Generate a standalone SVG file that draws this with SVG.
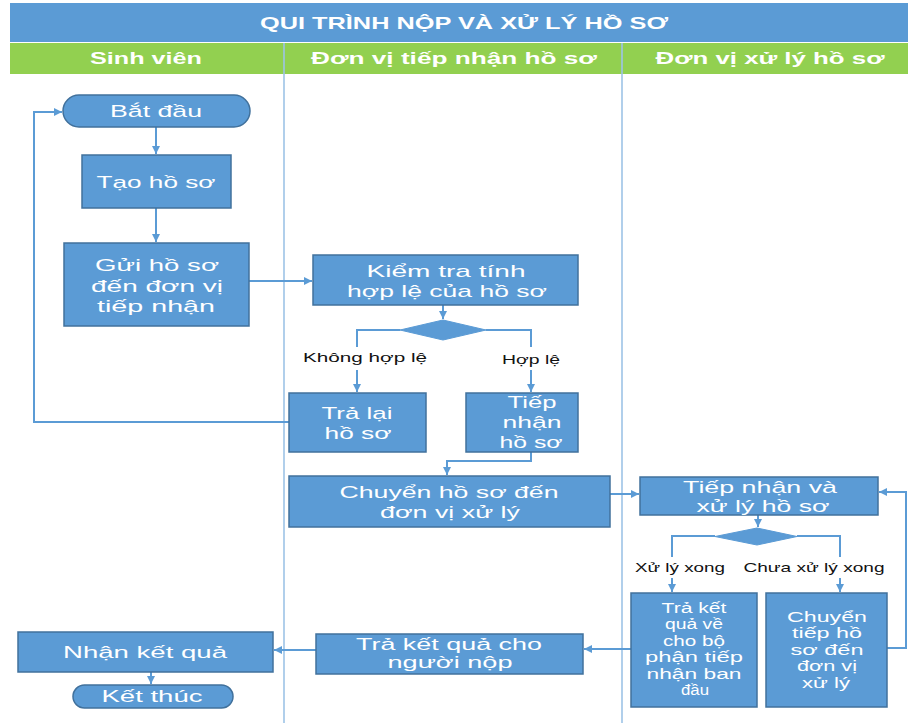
<svg xmlns="http://www.w3.org/2000/svg" width="908" height="723" viewBox="0 0 908 723">
<style>
.box{fill:#5B9BD5;stroke:#41719C;stroke-width:1.5}
.dec{fill:#5B9BD5;stroke:#5B9BD5;stroke-width:1}
.t{fill:#FFFFFF;font-family:"Liberation Sans","Open Sans",sans-serif;font-size:17px;text-anchor:middle}
.s{font-size:15.5px}
.h{fill:#FFFFFF;font-family:"Liberation Sans","Open Sans",sans-serif;font-size:17px;font-weight:bold;text-anchor:middle}
.lbl{fill:#111111;font-family:"Liberation Sans","Open Sans",sans-serif;font-size:13.5px;text-anchor:middle}
.conn{fill:none;stroke:#5B9BD5;stroke-width:2}
.lane{stroke:#9DC3E6;stroke-width:1.6}
</style>
<defs>
<marker id="arr" markerUnits="userSpaceOnUse" markerWidth="9" markerHeight="8" refX="8" refY="4" orient="auto">
<path d="M0,0 L8,4 L0,8 Z" fill="#5B9BD5"/>
</marker>
</defs>
<rect width="908" height="723" fill="#FFFFFF"/>
<g id="header">
<rect x="10" y="3" width="898" height="39" fill="#5B9BD5"/>
<text class="h" x="464" y="29" textLength="408" lengthAdjust="spacingAndGlyphs">QUI TRÌNH NỘP VÀ XỬ LÝ HỒ SƠ</text>
<rect x="10" y="43" width="898" height="31" fill="#92D050"/>
<text class="h" x="146" y="64" textLength="112" lengthAdjust="spacingAndGlyphs">Sinh viên</text>
<text class="h" x="454" y="64" textLength="286" lengthAdjust="spacingAndGlyphs">Đơn vị tiếp nhận hồ sơ</text>
<text class="h" x="770" y="64" textLength="229" lengthAdjust="spacingAndGlyphs">Đơn vị xử lý hồ sơ</text>
</g>
<g id="lanes">
<line class="lane" x1="284" y1="43" x2="284" y2="723"/>
<line class="lane" x1="622" y1="43" x2="622" y2="723"/>
</g>
<g id="connectors">
<path class="conn" d="M156,127 V154" marker-end="url(#arr)"/>
<path class="conn" d="M156,208 V242" marker-end="url(#arr)"/>
<path class="conn" d="M249,281 H312" marker-end="url(#arr)"/>
<path class="conn" d="M443,305 V319" marker-end="url(#arr)"/>
<path class="conn" d="M400,330 H357 V347"/>
<path class="conn" d="M357,370 V392" marker-end="url(#arr)"/>
<path class="conn" d="M486,330 H531 V347"/>
<path class="conn" d="M531,370 V392" marker-end="url(#arr)"/>
<path class="conn" d="M289,422 H34 V112 H62" marker-end="url(#arr)"/>
<path class="conn" d="M531,452 V461 H447 V475" marker-end="url(#arr)"/>
<path class="conn" d="M610,494 H639" marker-end="url(#arr)"/>
<path class="conn" d="M758,515 V527" marker-end="url(#arr)"/>
<path class="conn" d="M715,536 H672 V557"/>
<path class="conn" d="M672,578 V592" marker-end="url(#arr)"/>
<path class="conn" d="M797,536 H840 V557"/>
<path class="conn" d="M840,578 V592" marker-end="url(#arr)"/>
<path class="conn" d="M887,648 H906 V492 H879" marker-end="url(#arr)"/>
<path class="conn" d="M631,649 H584" marker-end="url(#arr)"/>
<path class="conn" d="M316,650 H274" marker-end="url(#arr)"/>
<path class="conn" d="M151,672 V684" marker-end="url(#arr)"/>
</g>
<g id="bat-dau">
<rect class="box" x="63" y="95" width="187" height="32" rx="16" ry="16"/>
<text class="t" x="156" y="117" textLength="92" lengthAdjust="spacingAndGlyphs">Bắt đầu</text>
</g>
<g id="tao-ho-so">
<rect class="box" x="82" y="155" width="149" height="53"/>
<text class="t" x="156" y="188" textLength="119" lengthAdjust="spacingAndGlyphs">Tạo hồ sơ</text>
</g>
<g id="gui-ho-so">
<rect class="box" x="64" y="243" width="185" height="83"/>
<text class="t" x="157" y="271" textLength="124" lengthAdjust="spacingAndGlyphs">Gửi hồ sơ</text>
<text class="t" x="157" y="292" textLength="132" lengthAdjust="spacingAndGlyphs">đến đơn vị</text>
<text class="t" x="156" y="312" textLength="118" lengthAdjust="spacingAndGlyphs">tiếp nhận</text>
</g>
<g id="kiem-tra">
<rect class="box" x="313" y="255" width="265" height="50"/>
<text class="t" x="446" y="277" textLength="159" lengthAdjust="spacingAndGlyphs">Kiểm tra tính</text>
<text class="t" x="447" y="297" textLength="200" lengthAdjust="spacingAndGlyphs">hợp lệ của hồ sơ</text>
</g>
<g id="quyet-dinh-1">
<polygon class="dec" points="443,320 486,330 443,340 400,330"/>
</g>
<g id="lbl-khong-hop-le">
<text class="lbl" x="365" y="362" textLength="124" lengthAdjust="spacingAndGlyphs">Không hợp lệ</text>
</g>
<g id="lbl-hop-le">
<text class="lbl" x="531" y="364" textLength="58" lengthAdjust="spacingAndGlyphs">Hợp lệ</text>
</g>
<g id="tra-lai">
<rect class="box" x="289" y="393" width="137" height="59"/>
<text class="t" x="357" y="419" textLength="71" lengthAdjust="spacingAndGlyphs">Trả lại</text>
<text class="t" x="358" y="439" textLength="67" lengthAdjust="spacingAndGlyphs">hồ sơ</text>
</g>
<g id="tiep-nhan">
<rect class="box" x="466" y="393" width="112" height="59"/>
<text class="t" x="532" y="408" textLength="49" lengthAdjust="spacingAndGlyphs">Tiếp</text>
<text class="t" x="532" y="428" textLength="59" lengthAdjust="spacingAndGlyphs">nhận</text>
<text class="t" x="531" y="448" textLength="63" lengthAdjust="spacingAndGlyphs">hồ sơ</text>
</g>
<g id="chuyen-ho-so">
<rect class="box" x="289" y="476" width="321" height="51"/>
<text class="t" x="449" y="498" textLength="219" lengthAdjust="spacingAndGlyphs">Chuyển hồ sơ đến</text>
<text class="t" x="450" y="518" textLength="140" lengthAdjust="spacingAndGlyphs">đơn vị xử lý</text>
</g>
<g id="tiep-nhan-xu-ly">
<rect class="box" x="640" y="477" width="238" height="38"/>
<text class="t" x="760" y="493" textLength="154" lengthAdjust="spacingAndGlyphs">Tiếp nhận và</text>
<text class="t" x="763" y="512" textLength="133" lengthAdjust="spacingAndGlyphs">xử lý hồ sơ</text>
</g>
<g id="quyet-dinh-2">
<polygon class="dec" points="757,528 797,536.5 757,545 715,536.5"/>
</g>
<g id="lbl-xu-ly-xong">
<text class="lbl" x="680" y="572" textLength="90" lengthAdjust="spacingAndGlyphs">Xử lý xong</text>
</g>
<g id="lbl-chua-xu-ly-xong">
<text class="lbl" x="814" y="572" textLength="141" lengthAdjust="spacingAndGlyphs">Chưa xử lý xong</text>
</g>
<g id="tra-ket-qua-ve">
<rect class="box" x="631" y="593" width="126" height="114"/>
<text class="t s" x="694" y="613" textLength="65" lengthAdjust="spacingAndGlyphs">Trả kết</text>
<text class="t s" x="694" y="629" textLength="58" lengthAdjust="spacingAndGlyphs">quả về</text>
<text class="t s" x="694" y="646" textLength="62" lengthAdjust="spacingAndGlyphs">cho bộ</text>
<text class="t s" x="694" y="662" textLength="98" lengthAdjust="spacingAndGlyphs">phận tiếp</text>
<text class="t s" x="694" y="679" textLength="95" lengthAdjust="spacingAndGlyphs">nhận ban</text>
<text class="t s" x="695" y="695" textLength="28" lengthAdjust="spacingAndGlyphs">đầu</text>
</g>
<g id="chuyen-tiep">
<rect class="box" x="766" y="593" width="121" height="114"/>
<text class="t s" x="827" y="622" textLength="80" lengthAdjust="spacingAndGlyphs">Chuyển</text>
<text class="t s" x="827" y="638" textLength="70" lengthAdjust="spacingAndGlyphs">tiếp hồ</text>
<text class="t s" x="827" y="655" textLength="73" lengthAdjust="spacingAndGlyphs">sơ đến</text>
<text class="t s" x="827" y="671" textLength="60" lengthAdjust="spacingAndGlyphs">đơn vị</text>
<text class="t s" x="826" y="688" textLength="48" lengthAdjust="spacingAndGlyphs">xử lý</text>
</g>
<g id="tra-ket-qua-cho">
<rect class="box" x="316" y="634" width="267" height="40"/>
<text class="t" x="449" y="650" textLength="186" lengthAdjust="spacingAndGlyphs">Trả kết quả cho</text>
<text class="t" x="450" y="668" textLength="125" lengthAdjust="spacingAndGlyphs">người nộp</text>
</g>
<g id="nhan-ket-qua">
<rect class="box" x="18" y="632" width="255" height="40"/>
<text class="t" x="145" y="658" textLength="164" lengthAdjust="spacingAndGlyphs">Nhận kết quả</text>
</g>
<g id="ket-thuc">
<rect class="box" x="73" y="685" width="160" height="23" rx="11.5" ry="11.5"/>
<text class="t" x="152" y="702" textLength="101" lengthAdjust="spacingAndGlyphs">Kết thúc</text>
</g>
</svg>
